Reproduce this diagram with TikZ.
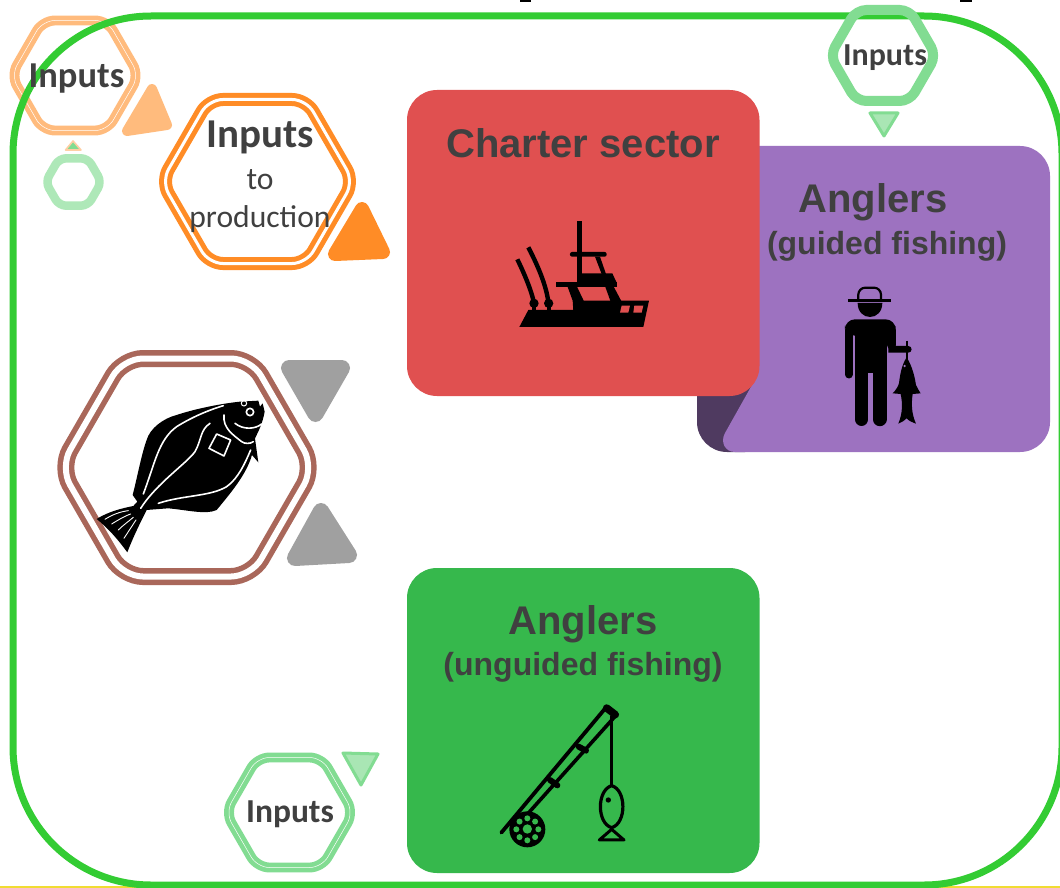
\documentclass[tikz,border=0pt]{standalone}
\usepackage{fontspec}
\usetikzlibrary{calc}
\setmainfont{Liberation Sans}
\newfontfamily\calfont{Carlito}
\definecolor{txt}{HTML}{404040}
\definecolor{frameg}{HTML}{33CC33}
\definecolor{lgreen}{HTML}{82DC92}
\definecolor{pgreen}{HTML}{AEE8B8}
\definecolor{tgreen}{HTML}{A9E6B4}
\definecolor{orangeA}{HTML}{FF8C26}
\definecolor{orangeB}{HTML}{FFBB7D}
\definecolor{brownH}{HTML}{A9675A}
\definecolor{greyT}{HTML}{A0A0A0}
\definecolor{redB}{HTML}{E05050}
\definecolor{purB}{HTML}{9D72C0}
\definecolor{purD}{HTML}{4F3A60}
\definecolor{grnB}{HTML}{36B84C}
\definecolor{yellowL}{HTML}{F0DC32}
\newcommand{\hexa}[6]{\draw[#1,rounded corners=#6pt] (#2-#4,#3) -- (#2-#4+0.577*#5,#3-#5) -- (#2+#4-0.577*#5,#3-#5) -- (#2+#4,#3) -- (#2+#4-0.577*#5,#3+#5) -- (#2-#4+0.577*#5,#3+#5) -- cycle;}
\tikzset{
  x=1pt,y=-1pt,
  boldlab/.style={text=txt,font=\bfseries\fontsize{40}{40}\selectfont,inner sep=0pt},
  sublab/.style={text=txt,font=\bfseries\fontsize{32}{32}\selectfont,inner sep=0pt},
  inlab/.style={text=txt,inner sep=0pt},
  tri/.style={line join=round,line width=#1},
  icon/.style={shift={(#1)},x=0.3333pt,y=-0.3333pt},
}
\begin{document}
\begin{tikzpicture}
\useasboundingbox (0,0) rectangle (1060,888);
\fill[white] (0,0) rectangle (1060,888);
% stray marks at the page edges
\fill[black] (520,0) rectangle (531,2);
\fill[black] (960,0) rectangle (972,2);
\fill[yellowL] (0,886) rectangle (1060,888);
% faded hexagon under the frame
\hexa{orangeB,line width=4.7,double=white,double distance=0.5}{75}{75.5}{64}{55}{12}
\begin{scope}
\clip (0,0) rectangle (1060,888);
\draw[frameg,line width=7,rounded corners=138pt] (13,16) rectangle (1062,885);
\end{scope}
% boxes
\fill[purD] (697,300) -- (697,422) arc[start angle=180,end angle=270,x radius=30,y radius=-30] -- (745,452) -- (760,380) -- (760,300) -- cycle;
\fill[purB,rounded corners=0pt] (740,146) -- (1020,146) arc[start angle=90,end angle=0,x radius=30,y radius=-30]
 -- (1050,422) arc[start angle=0,end angle=-90,x radius=30,y radius=-30]
 -- (735,452) .. controls (725,452) and (720,442) .. (725,433) -- (752,385) -- cycle;
\fill[redB,rounded corners=30pt] (407,90) rectangle (759.5,396);
\fill[grnB,rounded corners=30pt] (407,568) rectangle (759.5,873);
% hexagons
\hexa{lgreen,line width=10}{883}{55.5}{53}{45.5}{10}
\hexa{pgreen,line width=8.5}{73.5}{182}{28}{23.7}{7}
\hexa{orangeA,line width=5,double=white,double distance=3}{257.5}{181.5}{96}{82}{14}
\hexa{brownH,line width=5.5,double=white,double distance=6}{187}{467.5}{127}{109}{20}
\hexa{lgreen,line width=4.7,double=white,double distance=0.5}{289.5}{812.5}{64}{55}{12}
% triangles
\draw[tri=14,orangeA,fill=orangeA] (362,209) -- (335,254) -- (383,252) -- cycle;
\draw[tri=10,orangeB,fill=orangeB] (152,89) -- (127,131) -- (167,125) -- cycle;
\draw[line join=round,line width=1.6,orangeB!70,fill=lgreen] (73,141) -- (65.5,150) -- (81,150) -- cycle;
\draw[tri=16,greyT,fill=greyT] (289,368) -- (342,368) -- (315.5,414) -- cycle;
\draw[tri=16,greyT,fill=greyT] (321,511) -- (295,558) -- (349,555) -- cycle;
\draw[line join=round,line width=3,lgreen,fill=tgreen] (870,113) -- (898,113) -- (884,136) -- cycle;
\draw[line join=round,line width=3,lgreen,fill=tgreen] (343,753) -- (378,754) -- (361,785) -- cycle;
% boat icon
\begin{scope}[icon={480,200}]
\fill[black] (291,63) rectangle (305,250);
\fill[black,rounded corners=2pt] (270,156) rectangle (380,170);
\fill[black] (300,220) -- (397,220) -- (410,248) -- (300,248) -- cycle;
\fill[black] (345,170) -- (360,170) -- (378,222) -- (365,222) -- cycle;
\fill[black] (228,246) rectangle (412,260);
\fill[black] (375,258) -- (400,258) -- (425,305) -- (392,305) -- cycle;
\fill[black] (262,258) -- (290,258) -- (312,304) -- (280,332) -- (278,302) -- cycle;
\fill[black] (118,381) -- (145,330) -- (280,330) -- (280,302) -- (507,302) -- (490,381) -- cycle;
\fill[redB] (425,317) -- (450,317) -- (445,338) -- (420,338) -- cycle;
\fill[redB] (463,317) -- (490,317) -- (485,338) -- (460,338) -- cycle;
\draw[black,line width=4.4] (112,178) .. controls (135,225) and (155,275) .. (161,305);
\draw[black,line width=4.4] (145,142) .. controls (175,200) and (198,255) .. (205,305);
\fill[black] (162,310) circle[radius=14];
\fill[black] (206,310) circle[radius=14];
\fill[black] (155,315) rectangle (167,335);
\fill[black] (200,315) rectangle (212,335);
\end{scope}
% angler icon
\begin{scope}[icon={690,270}]
\draw[black,line width=2.8] (474,92) -- (603,92);
\draw[black,line width=2.2,rounded corners=7pt] (505,90) -- (505,53) -- (573,53) -- (573,90);
\fill[black] (503,99) -- (577,99) .. controls (577,125) and (560,141) .. (540,141) .. controls (520,141) and (503,125) .. (503,99) -- cycle;
\fill[black,rounded corners=10pt] (465,197) -- (465,148) -- (617,148) -- (617,197) -- cycle;
\draw[black,line width=7.6,line cap=round] (476.5,180) -- (476.5,314);
\draw[black,line width=9,line cap=round] (604,180) -- (604,225);
\fill[black] (495,180) rectangle (590,310);
\draw[black,line width=13.3,line cap=round] (515,290) -- (515,448);
\draw[black,line width=13.8,line cap=round] (569,290) -- (569,448);
\fill[black] (595,228) -- (655,228) .. controls (668,228) and (668,248) .. (655,248) -- (595,248) -- cycle;
\draw[black,line width=2] (650,212) -- (650,270);
\fill[black] (650,262) .. controls (668,290) and (675,325) .. (678,345) .. controls (682,355) and (688,363) .. (692,370) -- (668,372) .. controls (664,400) and (664,430) .. (678,461) .. controls (665,456) and (655,452) .. (650,445) .. controls (645,452) and (635,456) .. (625,461) .. controls (638,430) and (638,400) .. (632,372) -- (608,370) .. controls (618,360) and (624,350) .. (627,340) .. controls (630,315) and (635,285) .. (650,262) -- cycle;
\fill[purB] (644,288) circle[radius=4];
\end{scope}
% rod icon
\begin{scope}[icon={480,690},line cap=round]
\draw[black,line width=3.8] (64,428) -- (380,50);
\draw[black,line width=3.6] (140,375) -- (408,76);
\draw[black,line width=7.5] (380,54) -- (406,74);
\draw[black,line width=6] (296,170) -- (318,182);
\draw[black,line width=6] (210,270) -- (232,286);
\draw[black,line width=3] (395,78) -- (395,285);
\draw[black,line width=3.2] (395,287) .. controls (350,300) and (350,400) .. (395,413) .. controls (440,400) and (440,300) .. (395,287) -- cycle;
\fill[black] (385,330) circle[radius=8];
\draw[black,line width=3,line join=round] (395,418) -- (358,450) -- (432,450) -- cycle;
\fill[black] (142,418) circle[radius=54];
\fill[grnB] (142,417) circle[radius=14];
\foreach \a in {0,45,...,315}{\fill[grnB] ($(142,418)+(\a:33)$) circle[radius=9];}
\end{scope}
% flounder icon
\begin{scope}[icon={40,340}]
\fill[black] (170,537) .. controls (205,515) and (245,505) .. (280,498) -- (292,485) -- (278,465) .. controls (290,420) and (305,340) .. (320,300) .. controls (330,265) and (370,235) .. (410,225) .. controls (470,205) and (550,190) .. (600,185) -- (655,182) -- (660,200) -- (668,190) -- (674,215) .. controls (668,250) and (655,275) .. (645,295) -- (655,367) -- (636,345) .. controls (620,400) and (580,450) .. (530,510) .. controls (500,525) and (440,510) .. (385,505) -- (320,510) .. controls (300,550) and (280,590) .. (262,637) .. controls (235,600) and (205,565) .. (170,537) -- cycle;
\begin{scope}[white,line cap=round]
\draw[line width=1.6] (302,505) .. controls (350,430) and (440,370) .. (465,335) .. controls (485,300) and (480,270) .. (510,250);
\draw[line width=1.6] (310,462) .. controls (345,370) and (355,300) .. (410,260) .. controls (450,235) and (500,212) .. (550,197);
\draw[line width=1.6] (355,490) .. controls (430,465) and (510,470) .. (560,440) .. controls (595,415) and (615,370) .. (632,330);
\draw[line width=1.6] (552,225) .. controls (548,265) and (580,285) .. (605,305) .. controls (615,312) and (630,312) .. (640,305);
\draw[line width=1.6] (585,250) .. controls (610,270) and (645,268) .. (665,252);
\draw[line width=1.6,line join=round] (530,282) -- (572,300) -- (552,348) -- (507,325) -- cycle;
\draw[line width=1.6] (630,216) circle[radius=11];
\draw[line width=1] (612,190) circle[radius=8];
\draw[line width=0.9] (195,538) .. controls (215,525) and (240,515) .. (265,512);
\draw[line width=0.9] (215,552) .. controls (235,540) and (250,530) .. (272,522);
\draw[line width=0.9] (235,570) .. controls (250,555) and (265,545) .. (280,532);
\draw[line width=0.9] (252,595) .. controls (265,575) and (275,560) .. (288,540);
\end{scope}
\end{scope}
% labels
\node[boldlab] (charter) at (583,143) {Charter sector};
\node[boldlab] (guided) at (873,202) {Anglers};
\node[sublab] (guidedb) at (887,246) {(guided fishing)};
\node[boldlab] (unguided) at (583,624) {Anglers};
\node[sublab] (unguidedb) at (583,667) {(unguided fishing)};
\node[inlab,font=\calfont\bfseries\fontsize{36.5}{37}\selectfont] (inA) at (76.5,79) {Inputs};
\node[inlab,font=\calfont\bfseries\fontsize{41}{41}\selectfont] (inB) at (260.5,137) {Inputs};
\node[inlab,font=\calfont\fontsize{31.6}{32}\selectfont] (inC) at (260,180) {to};
\node[inlab,font=\calfont\fontsize{31.6}{32}\selectfont] (inD) at (260,219) {production};
\node[inlab,font=\calfont\bfseries\fontsize{32}{32}\selectfont] (inE) at (885,58) {Inputs};
\node[inlab,font=\calfont\bfseries\fontsize{33.5}{34}\selectfont] (inF) at (290,814) {Inputs};
\end{tikzpicture}
\end{document}
